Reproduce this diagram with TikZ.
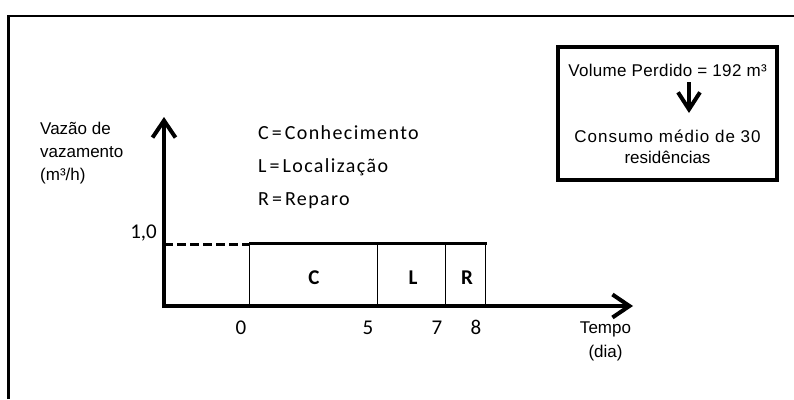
\documentclass[tikz,border=0pt]{standalone}
\usepackage{fontspec}
\setmainfont{Liberation Sans}
\newfontfamily\legfont[LetterSpace=7]{Carlito}
\newfontfamily\numfont{Carlito}
\usetikzlibrary{arrows.meta}
\newcommand{\eqsep}{\hspace{3pt}=\hspace{3pt}}
\tikzset{
  arial/.style={inner sep=0pt, font=\fontsize{17}{20}\selectfont},
  legend/.style={inner sep=0pt, anchor=base west, font=\legfont\fontsize{20}{22}\selectfont},
  ticklab/.style={inner sep=0pt, anchor=base, font=\numfont\fontsize{21}{24}\selectfont},
  phase/.style={inner sep=0pt, anchor=base, font=\numfont\bfseries\fontsize{21}{22}\selectfont},
  axis/.style={line width=4pt, -{Straight Barb[length=17pt,width=23pt]}},
  divider/.style={line width=0.9pt},
  frame/.style={line width=2.5pt},
}
\begin{document}
\begin{tikzpicture}[x=1pt,y=-1pt]
\useasboundingbox (0,0) rectangle (794,399);
% outer frame (partly outside the picture)
\draw[frame] (8.7,399) -- (8.7,16) -- (794,16);

% axes
\coordinate (O) at (164,306);
\coordinate (ytip) at (164,117);
\coordinate (xtip) at (633,306);
\draw[axis] (164,308) -- (ytip);
\draw[axis] (162,306) -- (xtip);

% phase boundaries
\coordinate (t0b) at (249,306);  \coordinate (t0t) at (249,243);
\coordinate (t5b) at (377,306);  \coordinate (t5t) at (377,243);
\coordinate (t7b) at (445,306);  \coordinate (t7t) at (445,243);
\coordinate (t8b) at (485,306);  \coordinate (t8t) at (485,243);
\coordinate (lvl) at (164,244.5);
\coordinate (lvlend) at (487,243);
\draw[divider] (t0b) -- (t0t);
\draw[divider] (t5b) -- (t5t);
\draw[divider] (t7b) -- (t7t);
\draw[divider] (t8b) -- (t8t);
\draw[line width=3pt] (t0t) -- (lvlend);
\draw[line width=3pt, dash pattern=on 9pt off 4pt] (lvl) -- (249,244.5);

% phase letters
\node[phase] (C) at (314,284) {C};
\node[phase] (L) at (413,284) {L};
\node[phase] (R) at (467,284) {R};

% tick labels
\node[ticklab] (n0) at (241,334) {0};
\node[ticklab] (n5) at (368,334) {5};
\node[ticklab] (n7) at (437,334) {7};
\node[ticklab] (n8) at (476,334) {8};
\node[ticklab, anchor=base east] (one) at (157,238) {1,0};

% axis titles
\node[arial, anchor=base west] (ya) at (40,134) {Vazão de};
\node[arial, anchor=base west] (yb) at (40,157) {vazamento};
\node[arial, anchor=base west] (yc) at (40,180.5) {(m³/h)};
\node[arial, anchor=base] (xa) at (605.5,333) {Tempo};
\node[arial, anchor=base] (xb) at (605.5,357) {(dia)};

% legend
\node[legend] (lc) at (258,139) {C\eqsep Conhecimento};
\node[legend] (ll) at (258,172) {L\eqsep Localização};
\node[legend] (lr) at (258,205) {R\eqsep Reparo};

% info box
\node[draw, line width=4pt, minimum width=219pt, minimum height=133pt, inner sep=0pt] (box) at (667.5,113.5) {};
\node[arial, anchor=base, font=\addfontfeature{LetterSpace=2}\fontsize{17}{20}\selectfont] (vol) at (667.5,76) {Volume Perdido = 192 m³};
\coordinate (arrA) at (689,82);
\coordinate (arrB) at (689,113);
\draw[line width=4pt, -{Straight Barb[length=17pt,width=22pt]}] (arrA) -- (arrB);
\node[arial, anchor=base, font=\addfontfeature{LetterSpace=6}\fontsize{17}{20}\selectfont] (cons) at (667.5,142) {Consumo médio de 30};
\node[arial, anchor=base] (res) at (667.5,163) {residências};
\end{tikzpicture}
\end{document}
